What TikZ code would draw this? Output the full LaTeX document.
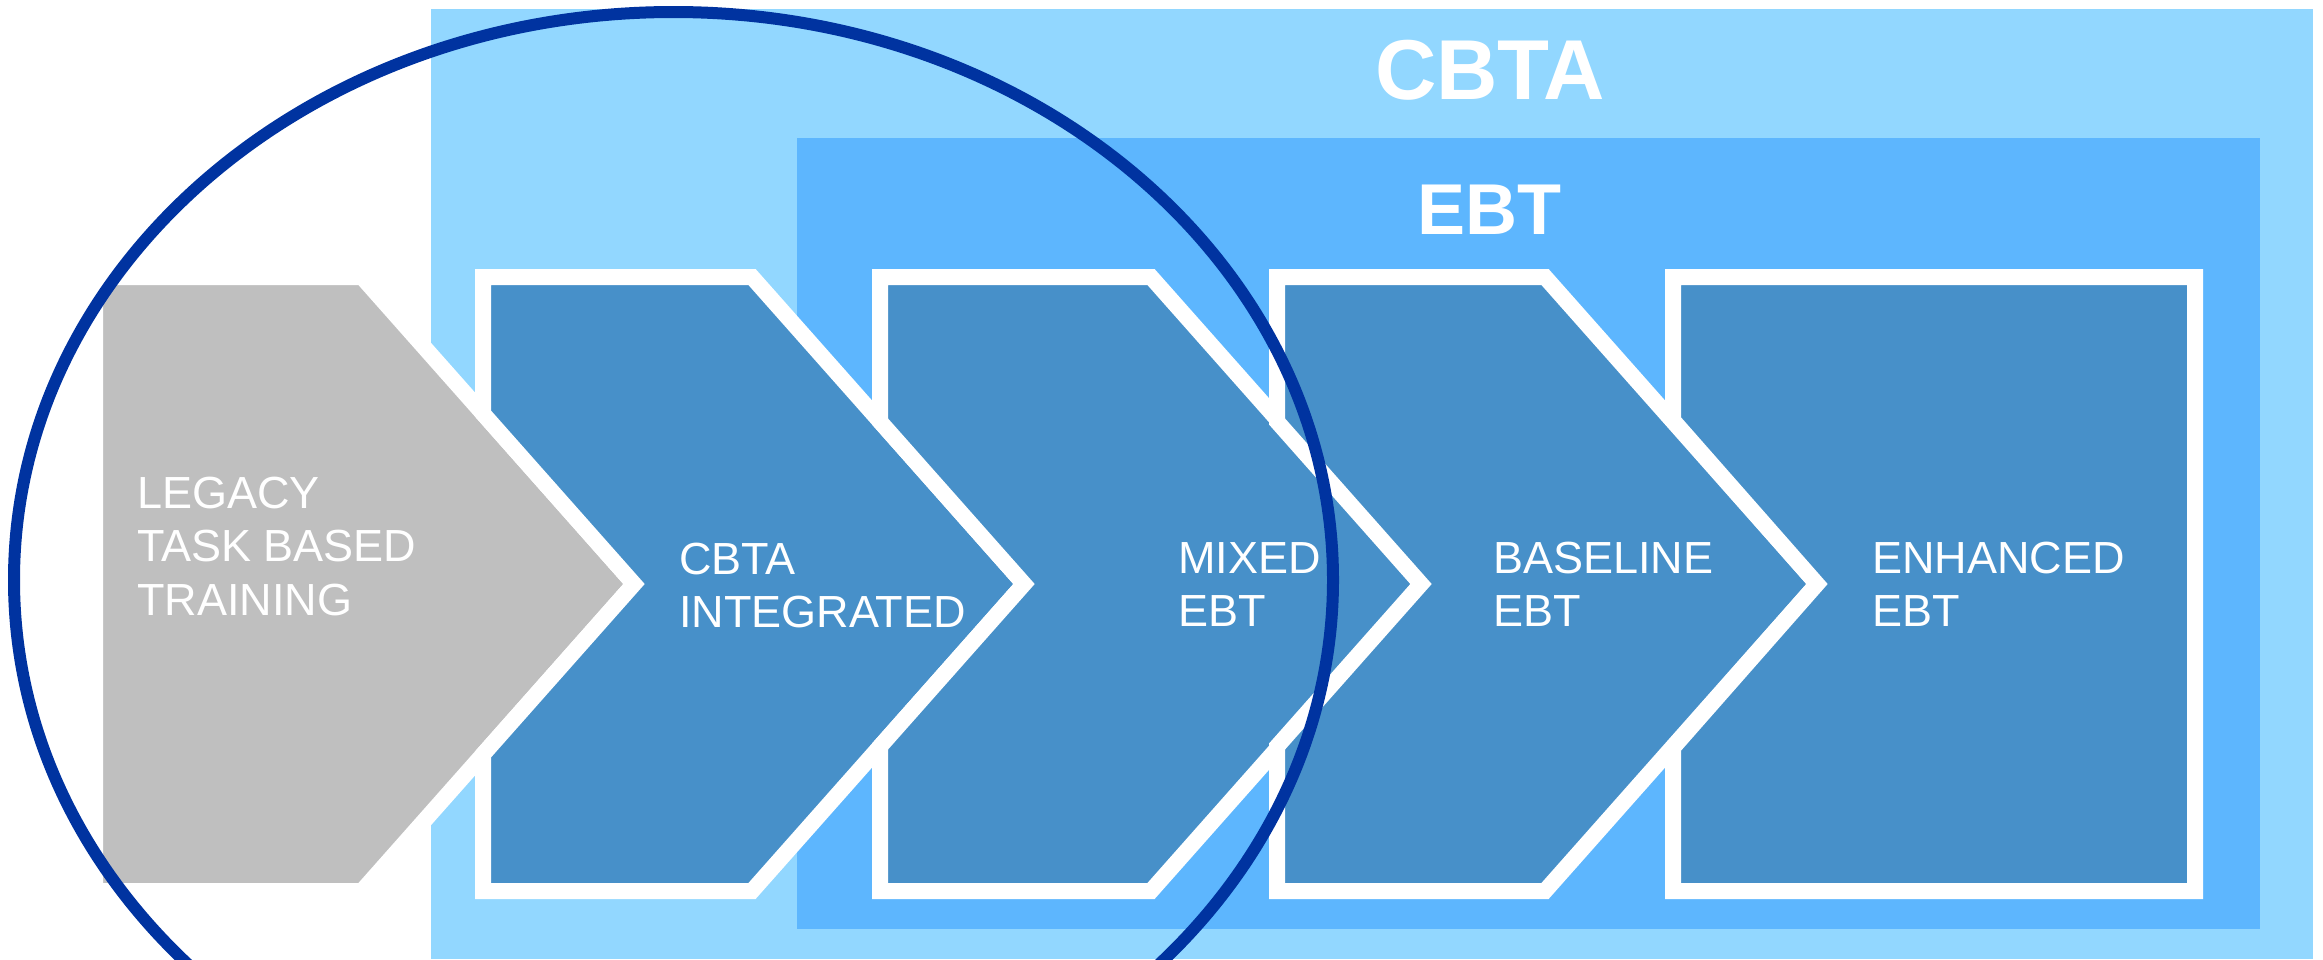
\documentclass[tikz,border=0pt]{standalone}
\usepackage{fontspec}
\setmainfont{Liberation Sans}
\usetikzlibrary{positioning}

\definecolor{cbtablue}{HTML}{92D7FF}
\definecolor{ebtblue}{HTML}{5DB6FE}
\definecolor{stepblue}{HTML}{4790C9}
\definecolor{legacygray}{HTML}{BFBFBF}
\definecolor{ringblue}{HTML}{0033A0}

\begin{document}
\begin{tikzpicture}[x=1pt, y=-1pt,
    stage/.style={fill=stepblue, draw=white, line width=16pt},
    label/.style={text=white, align=left, inner sep=0pt, anchor=north west,
        font=\fontsize{45}{53.3}\selectfont},
    title/.style={text=white, inner sep=0pt, anchor=base, font=\bfseries}]
    \useasboundingbox (0,0) rectangle (2323,959);
    \clip (0,0) rectangle (2323,959);
    % outer CBTA frame and inner EBT frame
    \fill[cbtablue] (431,9) rectangle (2313,959);
    \fill[ebtblue] (797,138) rectangle (2260,929);
    \node[title, font=\bfseries\fontsize{85}{90}\selectfont] (cbtatitle) at (1490,99) {CBTA};
    \node[title, font=\bfseries\fontsize{72}{80}\selectfont] (ebttitle) at (1489,234) {EBT};
    % legacy arrow
    \draw[stage, fill=legacygray] (95,277) -- (362,277) -- (634,584) -- (362,891) -- (95,891) -- cycle;
    % notched arrows, notch sits on the previous tip
    \foreach \L/\R/\N in {483/752/634, 880/1151/1024, 1277/1545/1421}
        \draw[stage] (\L,277) -- (\R,277) -- ({\R+272},584) -- (\R,891) -- (\L,891)
            -- (\L,{584+(\N-\L)*1.1287}) -- (\N,584) -- (\L,{584-(\N-\L)*1.1287}) -- cycle;
    % last step is a plain block with a notch
    \draw[stage] (1673,277) -- (2195,277) -- (2195,891) -- (1673,891)
        -- (1673,747.7) -- (1817,584) -- (1673,420.3) -- cycle;
    % step texts
    \node[label] (legacy) at (137,477) {LEGACY\\TASK BASED\\TRAINING};
    \node[label] (cbtaint) at (679,543) {CBTA\\INTEGRATED};
    \node[label] (mixed) at (1178,542) {MIXED\\EBT};
    \node[label] (baseline) at (1493,542) {BASELINE\\EBT};
    \node[label] (enhanced) at (1872,542) {ENHANCED\\EBT};
    % ring round the first steps
    \draw[ringblue, line width=12pt] (673.5,580) ellipse [x radius=659.5, y radius=568];
\end{tikzpicture}
\end{document}
